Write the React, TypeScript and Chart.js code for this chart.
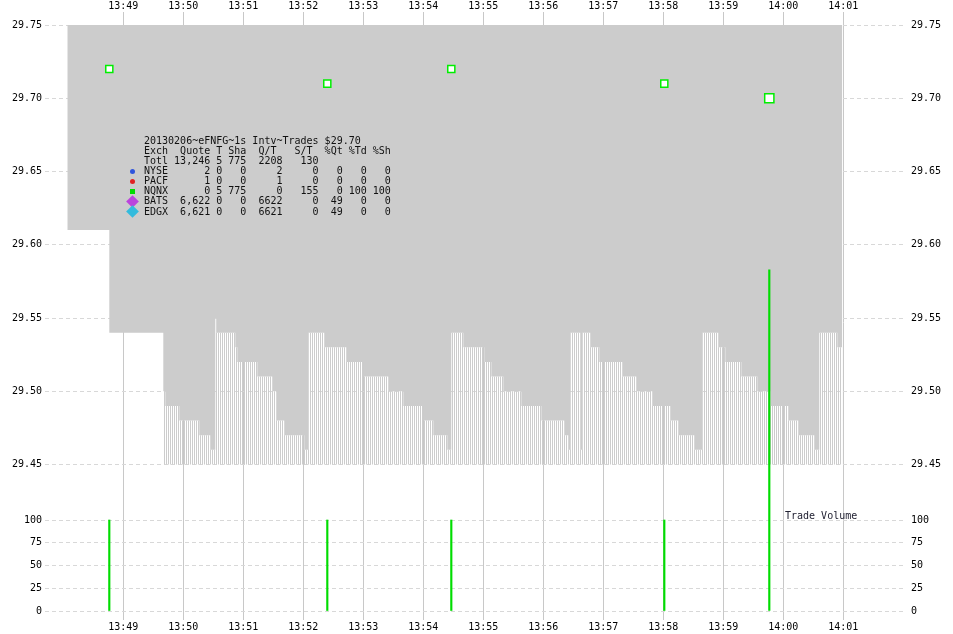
import React, { useEffect, useRef } from 'react';
import { Chart, registerables } from 'chart.js';

Chart.register(...registerables);

// ---- data ----
const ASK_PRICE = 29.75;
const BID_TIMES = [
  '13:48:04', '13:48:46', '13:49:40', '13:49:42', '13:49:56', '13:50:16', '13:50:27', '13:50:32', '13:50:33', '13:50:52', '13:50:54',
  '13:51:14', '13:51:29', '13:51:33', '13:51:41', '13:52:01', '13:52:05', '13:52:21', '13:52:43', '13:53:00', '13:53:25', '13:53:40',
  '13:54:00', '13:54:10', '13:54:24', '13:54:28', '13:54:40', '13:55:01', '13:55:08', '13:55:20', '13:55:38', '13:55:58', '13:56:21',
  '13:56:25', '13:56:27', '13:56:37', '13:56:39', '13:56:47', '13:56:56', '13:57:19', '13:57:33', '13:57:49', '13:58:07', '13:58:15',
  '13:58:31', '13:58:39', '13:58:55', '13:59:02', '13:59:18', '13:59:34', '13:59:47', '14:00:05', '14:00:15', '14:00:31', '14:00:36',
  '14:00:54', '14:00:59',
];
const BID_PRICES = [
  29.61, 29.54, 29.50, 29.49, 29.48, 29.47, 29.46, 29.55, 29.54, 29.53, 29.52,
  29.51, 29.50, 29.48, 29.47, 29.46, 29.54, 29.53, 29.52, 29.51, 29.50, 29.49,
  29.48, 29.47, 29.46, 29.54, 29.53, 29.52, 29.51, 29.50, 29.49, 29.48, 29.47,
  29.46, 29.54, 29.46, 29.54, 29.53, 29.52, 29.51, 29.50, 29.49, 29.48, 29.47,
  29.46, 29.54, 29.53, 29.52, 29.51, 29.50, 29.49, 29.48, 29.47, 29.46, 29.54,
  29.53, 29.53,
];
const STRIPE_FROM = '13:49:40';
const STRIPE_FLOOR = 29.45;

const TRADE_TIMES = ['13:48:46', '13:52:24', '13:54:28', '13:58:01', '13:59:46'];
const TRADE_PRICES = [29.72, 29.71, 29.72, 29.71, 29.70];
const TRADE_SIZES = [100, 100, 100, 100, 375];

const MINUTE_TICKS = ['13:49', '13:50', '13:51', '13:52', '13:53', '13:54', '13:55', '13:56', '13:57', '13:58', '13:59', '14:00', '14:01'];
const PRICE_TICKS = [29.45, 29.5, 29.55, 29.6, 29.65, 29.7, 29.75];
const VOLUME_TICKS = [0, 25, 50, 75, 100];

const LEGEND_TITLE = '20130206~eFNFG~1s Intv~Trades $29.70';
const LEGEND_HEADER = ['Exch', 'Quote', 'T', 'Sha', 'Q/T', 'S/T', '%Qt', '%Td', '%Sh'];
const LEGEND_TOTAL = ['Totl', '13,246', '5', '775', '2208', '130'];
const LEGEND_ROWS = [
  ['NYSE', '2', '0', '0', '2', '0', '0', '0', '0'],
  ['PACF', '1', '0', '0', '1', '0', '0', '0', '0'],
  ['NQNX', '0', '5', '775', '0', '155', '0', '100', '100'],
  ['BATS', '6,622', '0', '0', '6622', '0', '49', '0', '0'],
  ['EDGX', '6,621', '0', '0', '6621', '0', '49', '0', '0'],
];
const LEGEND_MARKERS = ['circle', 'circle', 'square', 'diamond', 'diamond'];
const LEGEND_COLORS = ['#2f55dd', '#e02222', '#00dd00', '#bb44dd', '#33bbdd'];

// ---- helpers ----
const toSec = (s: string) => {
  const [h, m, sec] = s.split(':').map(Number);
  return h * 3600 + m * 60 + (sec || 0);
};
const fmtMin = (v: number) => {
  const h = Math.floor(v / 3600);
  const m = Math.round((v % 3600) / 60);
  return `${h}:${String(m).padStart(2, '0')}`;
};
const FONT = { family: '"DejaVu Sans Mono", monospace', size: 10 };

// axis extents (layout)
const X_MIN = toSec('13:49:00') - 78.3;
const X_MAX = toSec('13:49:00') + 781.7;
// price panel occupies y 25..490, volume panel 490..620
const P_MIN = 29.4326;
const P_MAX = 29.75;
const V_MIN = -9.89;
const V_MAX = 132.97;
const PRICE_WEIGHT = 465;
const VOL_WEIGHT = 130;

const padL = (s: string, n: number) => s.padStart(n, ' ');
const COLS = [4, 7, 2, 4, 6, 6, 4, 4, 4];
const headerLine = () => {
  const h = LEGEND_HEADER;
  return h[0] + '  ' + h[1] + ' ' + h[2] + ' ' + h[3] + '  ' + h[4] + '   ' + h[5] + '  ' + h[6] + ' ' + h[7] + ' ' + h[8];
};
const rowLine = (r: string[]) => r.map((c, i) => (i === 0 ? c : padL(c, COLS[i]))).join('');

export default function App() {
  const ref = useRef<HTMLCanvasElement>(null);

  useEffect(() => {
    const canvas = ref.current!;
    const pc = document.createElement('canvas');
    pc.width = 2;
    pc.height = 1;
    const pctx = pc.getContext('2d')!;
    pctx.fillStyle = '#cccccc';
    pctx.fillRect(0, 0, 1, 1);
    const stripes = canvas.getContext('2d')!.createPattern(pc, 'repeat');

    const bidPts = BID_TIMES.map((t, i) => ({ x: toSec(t), y: BID_PRICES[i] }));
    const stripeStart = toSec(STRIPE_FROM);
    const stripePts = bidPts.filter((p) => p.x >= stripeStart);
    const tradePts = TRADE_TIMES.map((t, i) => ({ x: toSec(t), y: TRADE_PRICES[i] }));
    const volPts = TRADE_TIMES.map((t, i) => ({ x: toSec(t), y: TRADE_SIZES[i] }));

    const yAxis = (
      min: number,
      max: number,
      ticksArr: number[],
      fmt: (v: number) => string,
      left: boolean,
      w: number,
      weight: number,
      stackWeight: number,
      gridOn: boolean
    ) => ({
      type: 'linear',
      axis: 'y',
      min,
      max,
      position: left ? 'left' : 'right',
      stack: left ? 'L' : 'R',
      stackWeight,
      weight,
      afterBuildTicks: (s: any) => {
        s.ticks = ticksArr.map((v) => ({ value: v }));
      },
      afterFit: (s: any) => {
        s.width = w;
      },
      ticks: { callback: (v: any) => fmt(Number(v)), font: FONT, color: '#000', padding: left ? 3 : 6, autoSkip: false },
      grid: { display: gridOn, color: '#d8d8d8', drawTicks: false, lineWidth: 1 },
      border: { display: false, dash: [4, 3] },
    });

    const chart = new Chart(canvas, {
      type: 'line',
      data: {
        datasets: [
          {
            type: 'line',
            data: tradePts,
            showLine: false,
            xAxisID: 'x',
            yAxisID: 'price',
            pointStyle: 'rect',
            pointRadius: (c: any) => (TRADE_SIZES[c.dataIndex] > 100 ? 6.5 : 5),
            pointBorderColor: '#00ee00',
            pointBackgroundColor: '#ffffff',
            pointBorderWidth: 1.5,
            clip: false,
            order: 0,
          } as any,
          {
            type: 'bar',
            data: volPts,
            xAxisID: 'x',
            yAxisID: 'vol',
            backgroundColor: '#00dd00',
            barThickness: 1.5,
            clip: false,
            order: 1,
          } as any,
          {
            type: 'line',
            data: stripePts,
            xAxisID: 'x',
            yAxisID: 'price',
            stepped: 'before',
            borderColor: 'rgba(0,0,0,0)',
            borderWidth: 0,
            pointRadius: 0,
            fill: { value: STRIPE_FLOOR },
            backgroundColor: stripes,
            order: 2,
          } as any,
          {
            type: 'line',
            data: bidPts,
            xAxisID: 'x',
            yAxisID: 'price',
            stepped: 'before',
            borderColor: 'rgba(0,0,0,0)',
            borderWidth: 0,
            pointRadius: 0,
            fill: { value: ASK_PRICE },
            backgroundColor: '#cccccc',
            order: 3,
          } as any,
        ],
      },
      options: {
        responsive: false,
        animation: false,
        devicePixelRatio: 1,
        layout: { padding: 0 },
        plugins: { legend: { display: false }, tooltip: { enabled: false } },
        events: [],
        scales: {
          x: {
            type: 'linear',
            position: 'top',
            min: X_MIN,
            max: X_MAX,
            offset: false,
            afterBuildTicks: (s: any) => {
              s.ticks = MINUTE_TICKS.map((l) => ({ value: toSec(l + ':00') }));
            },
            afterFit: (s: any) => {
              s.height = 25;
            },
            ticks: { callback: (v: any) => fmtMin(Number(v)), font: FONT, color: '#000', padding: 0, autoSkip: false, maxRotation: 0 },
            grid: { color: '#c8c8c8', lineWidth: 1, drawTicks: true, tickLength: 13, offset: false },
            border: { display: false },
          },
          x2: {
            type: 'linear',
            axis: 'x',
            position: 'bottom',
            min: X_MIN,
            max: X_MAX,
            offset: false,
            afterBuildTicks: (s: any) => {
              s.ticks = MINUTE_TICKS.map((l) => ({ value: toSec(l + ':00') }));
            },
            afterFit: (s: any) => {
              s.height = 14;
            },
            ticks: { callback: (v: any) => fmtMin(Number(v)), font: FONT, color: '#000', padding: 1, autoSkip: false, maxRotation: 0 },
            grid: { drawOnChartArea: false, drawTicks: false, offset: false },
            border: { display: false },
          },
          price: yAxis(P_MIN, P_MAX, PRICE_TICKS, (v) => v.toFixed(2), true, 45, 1, PRICE_WEIGHT, true) as any,
          vol: yAxis(V_MIN, V_MAX, VOLUME_TICKS, (v) => String(v), true, 45, 0, VOL_WEIGHT, true) as any,
          priceR: yAxis(P_MIN, P_MAX, PRICE_TICKS, (v) => v.toFixed(2), false, 48, 0, PRICE_WEIGHT, false) as any,
          volR: yAxis(V_MIN, V_MAX, VOLUME_TICKS, (v) => String(v), false, 48, 1, VOL_WEIGHT, false) as any,
        },
      } as any,
    });
    return () => chart.destroy();
  }, []);

  const mono = '"DejaVu Sans Mono", monospace';
  const lines = [LEGEND_TITLE, headerLine(), rowLine(LEGEND_TOTAL), ...LEGEND_ROWS.map(rowLine)];
  const LH = 10.15;

  return (
    <div style={{ position: 'absolute', left: 0, top: 0, width: 953, height: 634, background: '#fff', overflow: 'hidden' }}>
      <canvas ref={ref} width={953} height={634} style={{ position: 'absolute', left: 0, top: 0, width: 953, height: 634 }} />
      <div
        style={{
          position: 'absolute',
          left: 144,
          top: 135.5,
          font: `10px ${mono}`,
          lineHeight: `${LH}px`,
          whiteSpace: 'pre',
          color: '#111',
        }}
      >
        {lines.map((l, i) => (
          <div key={i}>{l}</div>
        ))}
      </div>
      {LEGEND_MARKERS.map((m, i) => {
        const cy = 135.5 + LH * (3 + i) + 5.3;
        const cx = 132;
        const c = LEGEND_COLORS[i];
        if (m === 'circle')
          return <div key={i} style={{ position: 'absolute', left: cx - 2.5, top: cy - 2.5, width: 5, height: 5, borderRadius: '50%', background: c }} />;
        if (m === 'square')
          return <div key={i} style={{ position: 'absolute', left: cx - 2.5, top: cy - 2.5, width: 5, height: 5, background: c }} />;
        return (
          <div
            key={i}
            style={{ position: 'absolute', left: cx - 4.5, top: cy - 4.5, width: 9, height: 9, background: c, transform: 'rotate(45deg)' }}
          />
        );
      })}
      <div style={{ position: 'absolute', left: 785, top: 511, font: `10px ${mono}`, lineHeight: '10px', color: '#223', whiteSpace: 'pre' }}>
        Trade Volume
      </div>
    </div>
  );
}
